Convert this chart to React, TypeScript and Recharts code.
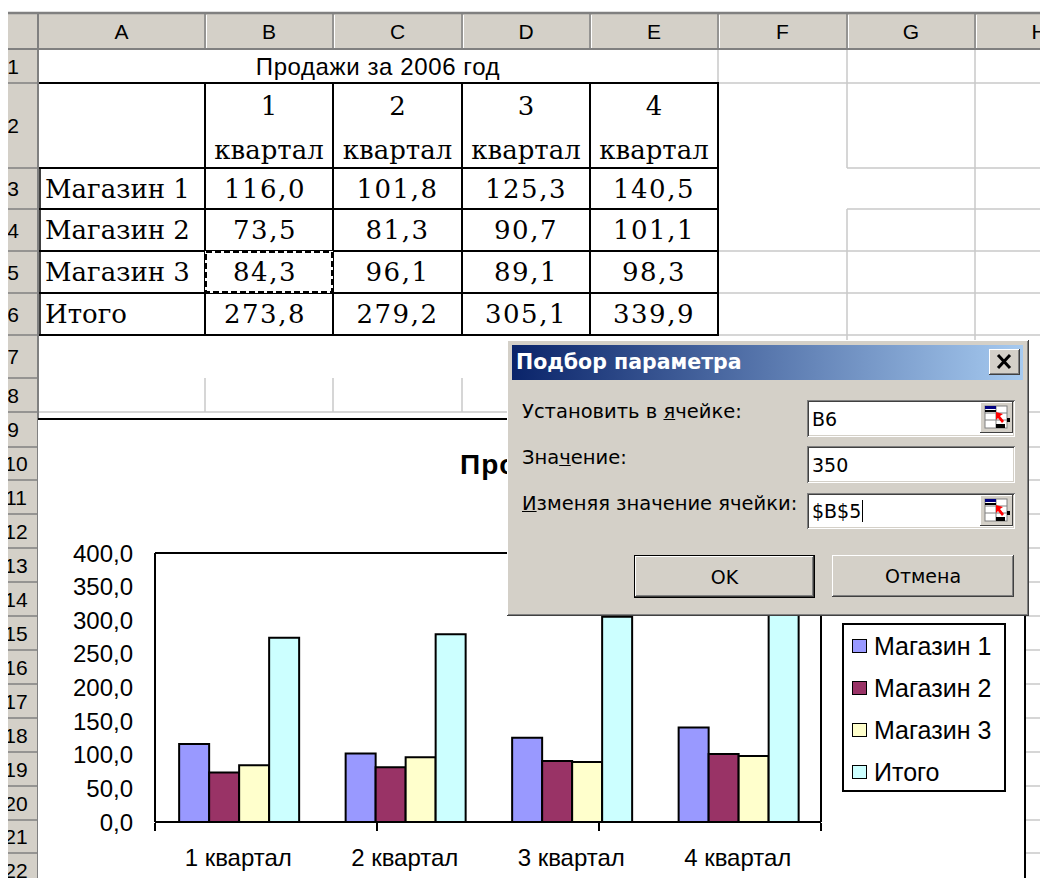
import { Bar, BarChart, XAxis, YAxis } from "recharts";

// Продажи по кварталам, тыс.
const quarters = ["1 квартал", "2 квартал", "3 квартал", "4 квартал"];
const store1 = [116.0, 101.8, 125.3, 140.5];
const store2 = [73.5, 81.3, 90.7, 101.1];
const store3 = [84.3, 96.1, 89.1, 98.3];
const totals = [273.8, 279.2, 305.1, 339.9];
const rowNames = ["Магазин 1", "Магазин 2", "Магазин 3", "Итого"];
const yTicks = [0, 50, 100, 150, 200, 250, 300, 350, 400];
const columnLetters = ["A", "B", "C", "D", "E", "F", "G", "H"];
const sheetTitle = "Продажи за 2006 год";

const seriesKeys = ["m1", "m2", "m3", "total"];
const seriesColors = ["#9999FF", "#993366", "#FFFFCC", "#CCFFFF"];

const chartData = quarters.map((quarter, i) => ({
  quarter,
  m1: store1[i],
  m2: store2[i],
  m3: store3[i],
  total: totals[i],
}));
const tableRows = [store1, store2, store3, totals];
// category boundaries for the x-axis tick marks
const edgeTicks = [0, 1, 2, 3, 4];

const fmt = (v: number) => v.toFixed(1).replace(".", ",");
const noLabel = () => <g />;

const SANS = '"Liberation Sans", Arial, sans-serif';
const SERIF = '"DejaVu Serif", serif';
const UI = '"DejaVu Sans", Tahoma, sans-serif';
const FACE = "#D4D0C8";
const GRID = "#C8C8C8";

// sheet geometry
const colEdges = [38, 205, 333, 462, 590, 718, 847, 975, 1103];
const rowEdges = [
  13, 49, 83, 168, 209, 251, 293, 335, 378, 412, 447, 480, 514, 548, 582, 616,
  650, 684, 718, 752, 786, 820, 853, 887,
];
const colCenter = (c: number) => (colEdges[c] + colEdges[c + 1]) / 2;
const rowCenter = (r: number) => (rowEdges[r] + rowEdges[r + 1]) / 2;

function SheetGrid() {
  const rowCount = rowEdges.length - 2;
  return (
    <svg width={1040} height={878} style={{ position: "absolute", left: 0, top: 0 }}>
      <defs>
        <clipPath id="rowHdr">
          <rect x={8} y={0} width={30} height={878} />
        </clipPath>
      </defs>
      <rect x={0} y={0} width={1040} height={878} fill="#fff" />

      {/* light gridlines around the table */}
      <g stroke={GRID} strokeWidth={1.5}>
        <line x1={718} y1={49} x2={718} y2={83} />
        <line x1={847} y1={49} x2={847} y2={168} />
        <line x1={847} y1={209} x2={847} y2={340} />
        <line x1={975} y1={49} x2={975} y2={340} />
        <line x1={718} y1={83} x2={1040} y2={83} />
        <line x1={847} y1={168} x2={1040} y2={168} />
        <line x1={847} y1={209} x2={1040} y2={209} />
        <line x1={718} y1={251} x2={1040} y2={251} />
        <line x1={718} y1={293} x2={1040} y2={293} />
        <line x1={718} y1={335} x2={1040} y2={335} />
        <line x1={205} y1={378} x2={205} y2={412} />
        <line x1={333} y1={378} x2={333} y2={412} />
        <line x1={462} y1={378} x2={462} y2={412} />
        <line x1={38} y1={412} x2={510} y2={412} />
        {rowEdges.slice(9).map((y) => (
          <line key={y} x1={1026} y1={y} x2={1040} y2={y} />
        ))}
      </g>

      {/* table borders */}
      <g stroke="#000" strokeWidth={2}>
        {[83, 168, 209, 251, 293, 335].map((y) => (
          <line key={y} x1={38} y1={y} x2={719} y2={y} />
        ))}
        {[205, 333, 462, 590, 718].map((x) => (
          <line key={x} x1={x} y1={83} x2={x} y2={336} />
        ))}
        <line x1={40} y1={168} x2={40} y2={336} strokeWidth={1.5} />
      </g>

      {/* copy marquee on B5 */}
      <rect x={206} y={252} width={126} height={40} fill="none" stroke="#fff" strokeWidth={2} />
      <rect
        x={206}
        y={252}
        width={126}
        height={40}
        fill="none"
        stroke="#000"
        strokeWidth={2}
        strokeDasharray="6 3"
      />

      {/* cell text */}
      <text
        x={378}
        y={rowCenter(1)}
        textAnchor="middle"
        dominantBaseline="central"
        fontFamily={SANS}
        fontSize={24}
        letterSpacing={0.6}
      >
        {sheetTitle}
      </text>
      {quarters.map((q, i) => {
        const [num, word] = q.split(" ");
        return (
          <g key={q} fontFamily={SERIF} fontSize={26} textAnchor="middle">
            <text x={colCenter(i + 1)} y={106} dominantBaseline="central">
              {num}
            </text>
            <text x={colCenter(i + 1)} y={150} dominantBaseline="central">
              {word}
            </text>
          </g>
        );
      })}
      {rowNames.map((name, r) => (
        <g key={name} fontFamily={SERIF} fontSize={26}>
          <text x={45} y={rowCenter(r + 3)} dominantBaseline="central">
            {name}
          </text>
          {tableRows[r].map((v, c) => (
            <text
              key={c}
              x={colCenter(c + 1) - (c === 0 ? 4 : 0)}
              y={rowCenter(r + 3)}
              textAnchor="middle"
              dominantBaseline="central"
              letterSpacing={1.5}
            >
              {fmt(v)}
            </text>
          ))}
        </g>
      ))}

      {/* column and row headers */}
      <rect x={8} y={13} width={1032} height={36} fill={FACE} />
      <rect x={8} y={13} width={30} height={865} fill={FACE} />
      <g stroke="#808080" strokeWidth={1.5}>
        {colEdges.slice(1).map((x) => (
          <line key={x} x1={x} y1={13} x2={x} y2={49} />
        ))}
        {rowEdges.slice(2).map((y) => (
          <line key={y} x1={8} y1={y} x2={38} y2={y} />
        ))}
        <line x1={8} y1={49} x2={1040} y2={49} strokeWidth={2} />
        <line x1={38} y1={13} x2={38} y2={878} strokeWidth={2} />
        <line x1={8} y1={13} x2={1040} y2={13} strokeWidth={2.5} />
      </g>
      <g stroke="#fff" strokeWidth={1}>
        {colEdges.slice(1).map((x) => (
          <line key={x} x1={x + 1.5} y1={15} x2={x + 1.5} y2={48} />
        ))}
      </g>
      {columnLetters.map((l, c) => (
        <text
          key={l}
          x={colCenter(c)}
          y={31}
          textAnchor="middle"
          dominantBaseline="central"
          fontFamily={SANS}
          fontSize={21}
          fill="#000"
        >
          {l}
        </text>
      ))}
      <g clipPath="url(#rowHdr)">
        {Array.from({ length: rowCount }, (_, i) => (
          <text
            key={i}
            x={i < 9 ? 13 : 16}
            y={rowCenter(i + 1)}
            textAnchor="middle"
            dominantBaseline="central"
            fontFamily={SANS}
            fontSize={21}
          >
            {i + 1}
          </text>
        ))}
      </g>
    </svg>
  );
}

const axisStroke = { stroke: "#000", strokeWidth: 2 };
const tickFont = { fill: "#000", fontSize: 24, fontFamily: SANS };

function SalesChart() {
  return (
    <>
      <div
        style={{
          position: "absolute",
          left: 38,
          top: 419,
          width: 986,
          height: 459,
          background: "#fff",
        }}
      >
        {/* chart title; the dialog sits over everything right of x=507 */}
        <div
          style={{
            position: "absolute",
            left: 422,
            top: 30,
            width: 47,
            overflow: "hidden",
            whiteSpace: "nowrap",
            fontFamily: SANS,
            fontWeight: "bold",
            fontSize: 28,
            letterSpacing: 1,
          }}
        >
          {sheetTitle}
        </div>
        <BarChart
          width={986}
          height={459}
          data={chartData}
          margin={{ top: 133, right: 202, bottom: 54, left: 0 }}
          barCategoryGap="14.5%"
          barGap={0}
        >
          <XAxis
            dataKey="quarter"
            height={1}
            tickLine={false}
            tickMargin={21}
            axisLine={axisStroke}
            tick={tickFont}
            interval={0}
          />
          <XAxis
            xAxisId="edges"
            type="number"
            domain={[0, quarters.length]}
            ticks={edgeTicks}
            allowDataOverflow
            height={1}
            tick={noLabel}
            tickSize={8}
            tickLine={axisStroke}
            axisLine={false}
            interval={0}
          />
          <XAxis
            xAxisId="frameTop"
            orientation="top"
            type="number"
            domain={[0, 1]}
            allowDataOverflow
            height={1}
            tick={false}
            tickLine={false}
            axisLine={axisStroke}
          />
          <YAxis
            domain={[0, 400]}
            ticks={yTicks}
            tickFormatter={fmt}
            width={117}
            tickLine={false}
            tickMargin={16}
            axisLine={axisStroke}
            tick={tickFont}
            interval={0}
          />
          <YAxis
            yAxisId="frameRight"
            orientation="right"
            domain={[0, 1]}
            allowDataOverflow
            width={1}
            tick={false}
            tickLine={false}
            axisLine={axisStroke}
          />
          {seriesKeys.map((key, i) => (
            <Bar
              key={key}
              dataKey={key}
              name={rowNames[i]}
              fill={seriesColors[i]}
              stroke="#000"
              strokeWidth={2}
              isAnimationActive={false}
            />
          ))}
        </BarChart>
      </div>
      {/* chart area frame */}
      <div
        style={{
          position: "absolute",
          left: 38,
          top: 418,
          width: 988,
          height: 470,
          boxSizing: "border-box",
          borderTop: "2px solid #000",
          borderRight: "2px solid #000",
          pointerEvents: "none",
        }}
      />
      {/* legend */}
      <div
        style={{
          position: "absolute",
          left: 842,
          top: 623,
          width: 164,
          height: 169,
          boxSizing: "border-box",
          border: "2px solid #000",
          background: "#fff",
        }}
      >
        {rowNames.map((name, i) => (
          <div
            key={name}
            style={{
              display: "flex",
              alignItems: "center",
              height: 42,
              fontFamily: SANS,
              fontSize: 25,
              whiteSpace: "nowrap",
            }}
          >
            <span
              style={{
                display: "inline-block",
                width: 15,
                height: 14,
                marginLeft: 8,
                marginRight: 7,
                boxSizing: "border-box",
                border: "1.5px solid #000",
                background: seriesColors[i],
              }}
            />
            {name}
          </div>
        ))}
      </div>
    </>
  );
}

const raised = "inset -1px -1px #404040, inset 1px 1px #fff, inset -2px -2px #808080, inset 2px 2px " + FACE;
const sunken = "inset 1px 1px #808080, inset -1px -1px #fff, inset 2px 2px #404040, inset -2px -2px " + FACE;

function RefEditIcon() {
  return (
    <svg width={33} height={31} style={{ position: "absolute", right: 2, top: 2 }}>
      <rect x={0} y={0} width={33} height={31} fill={FACE} />
      <line x1={0} y1={0.5} x2={33} y2={0.5} stroke="#fff" />
      <line x1={0.5} y1={0} x2={0.5} y2={31} stroke="#fff" />
      <line x1={0} y1={30.5} x2={33} y2={30.5} stroke="#404040" />
      <line x1={32.5} y1={0} x2={32.5} y2={31} stroke="#404040" />
      <rect x={5} y={4} width={22} height={22} fill="#fff" stroke="#808080" strokeWidth={1} />
      <g stroke="#808080" strokeWidth={1}>
        <line x1={5} y1={11} x2={27} y2={11} />
        <line x1={5} y1={18} x2={27} y2={18} />
        <line x1={16} y1={4} x2={16} y2={26} />
      </g>
      <rect x={5} y={4} width={11} height={3} fill="#000080" />
      <rect x={5} y={8} width={11} height={2} fill="#000" />
      <rect x={16} y={22} width={9} height={4} fill="#000" />
      <rect x={27} y={16} width={3} height={4} fill="#000" />
      <path d="M16 10 L16 18 L18 16 L22 21 L24 19 L20 14 L23 12 Z" fill="#FF0000" />
    </svg>
  );
}

function GoalSeekDialog() {
  const labelStyle = {
    position: "absolute" as const,
    left: 15,
    fontFamily: UI,
    fontSize: 19.5,
    lineHeight: "24px",
    whiteSpace: "nowrap" as const,
    color: "#000",
  };
  const boxStyle = {
    position: "absolute" as const,
    left: 300,
    width: 208,
    background: "#fff",
    boxShadow: sunken,
    fontFamily: UI,
    fontSize: 19,
    paddingLeft: 5,
    boxSizing: "border-box" as const,
    display: "flex",
    alignItems: "center",
  };
  const buttonStyle = {
    position: "absolute" as const,
    top: 215,
    height: 42,
    background: FACE,
    fontFamily: UI,
    fontSize: 19,
    display: "flex",
    alignItems: "center",
    justifyContent: "center",
    boxSizing: "border-box" as const,
  };
  return (
    <div
      style={{
        position: "absolute",
        left: 507,
        top: 340,
        width: 522,
        height: 276,
        background: FACE,
        boxShadow: raised,
      }}
    >
      <div
        style={{
          position: "absolute",
          left: 5,
          top: 5,
          width: 511,
          height: 35,
          background: "linear-gradient(to right, #0A246A, #A6CAF0)",
        }}
      >
        <div
          style={{
            position: "absolute",
            left: 4,
            top: 0,
            lineHeight: "35px",
            color: "#fff",
            fontFamily: UI,
            fontWeight: "bold",
            fontSize: 20.5,
            whiteSpace: "nowrap",
          }}
        >
          Подбор параметра
        </div>
        <div
          style={{
            position: "absolute",
            left: 477,
            top: 4,
            width: 31,
            height: 26,
            background: FACE,
            boxShadow: raised,
          }}
        >
          <svg width={31} height={26}>
            <g stroke="#000" strokeWidth={3}>
              <line x1={9} y1={6} x2={21} y2={19} />
              <line x1={21} y1={6} x2={9} y2={19} />
            </g>
          </svg>
        </div>
      </div>

      <div style={{ ...labelStyle, top: 60 }}>
        Установить в <u>я</u>чейке:
      </div>
      <div style={{ ...labelStyle, top: 106 }}>
        Зна<u>ч</u>ение:
      </div>
      <div style={{ ...labelStyle, top: 152 }}>
        <u>И</u>зменяя значение ячейки:
      </div>

      <div style={{ ...boxStyle, top: 60, height: 37 }}>
        B6
        <RefEditIcon />
      </div>
      <div style={{ ...boxStyle, top: 106, height: 37 }}>350</div>
      <div style={{ ...boxStyle, top: 153, height: 36 }}>
        $B$5
        <span style={{ display: "inline-block", width: 1, height: 22, background: "#000", marginLeft: 1 }} />
        <RefEditIcon />
      </div>

      <div style={{ ...buttonStyle, left: 127, width: 181, height: 43, border: "1px solid #000", boxShadow: raised }}>
        OK
      </div>
      <div style={{ ...buttonStyle, left: 325, width: 182, boxShadow: raised }}>Отмена</div>
    </div>
  );
}

export default function App() {
  return (
    <div
      style={{
        position: "absolute",
        left: 0,
        top: 0,
        width: 1040,
        height: 878,
        overflow: "hidden",
        background: "#fff",
      }}
    >
      <SheetGrid />
      <SalesChart />
      <GoalSeekDialog />
    </div>
  );
}
